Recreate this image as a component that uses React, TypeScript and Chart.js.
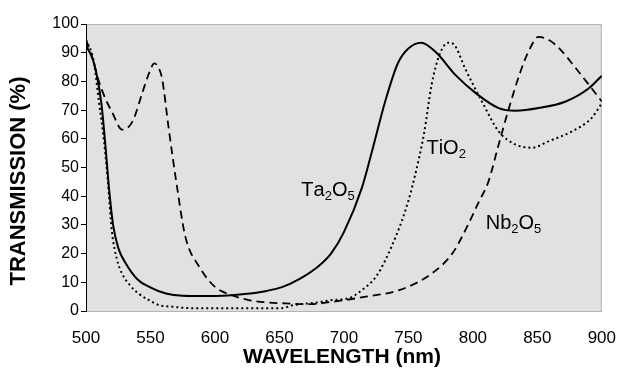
import React, { useEffect, useRef } from "react";
import { Chart, registerables } from "chart.js";

Chart.register(...registerables);

// ---------- data ----------
const taWavelength = [500, 505, 508, 512, 515, 518, 521, 525, 531, 540, 549, 562, 575, 590, 610, 625, 640, 652, 665, 680, 690, 700, 714, 722, 732, 742, 750, 760, 771, 787, 802, 820, 833, 851, 872, 890, 900];
const taTransmission = [92.5, 88, 83, 72, 58, 42, 30, 22, 16.5, 11, 8.4, 6.1, 5.3, 5.2, 5.4, 6, 7, 8.3, 11, 15.5, 20, 27.5, 43, 56, 73, 86.5, 91.5, 93.5, 90.3, 82, 76, 70.7, 69.8, 70.7, 73, 77.6, 82];

const tiWavelength = [500, 506, 510, 514, 517, 520, 524, 528, 534, 541, 548, 557, 567, 580, 620, 652, 660, 678, 691, 704, 714, 725, 732, 740, 745, 750, 755, 762, 768, 774, 781, 786, 794, 807, 820, 833, 846, 859, 877, 892, 900];
const tiTransmission = [94.6, 87, 73, 59, 45, 28, 18, 13, 9, 6, 4, 2, 1.5, 1, 1, 1, 2, 2.9, 3.8, 4.5, 7.3, 12, 17.6, 25.7, 31.5, 38.4, 47, 61.5, 78.8, 89.2, 93.5, 92.5, 84.5, 73, 62.6, 58, 56.9, 59.2, 62.6, 67.2, 72.4];

const nbWavelength = [500, 505, 510, 515, 520, 528, 536, 544, 549, 553, 556, 559, 564, 570, 577, 588, 600, 613, 626, 640, 652, 673, 691, 717, 743, 768, 784, 794, 805, 812, 820, 828, 836, 843, 851, 859, 867, 880, 890, 900];
const nbTransmission = [94.5, 88, 80, 74, 69.5, 63.2, 66, 76.5, 83, 86.3, 85, 81, 64, 45, 26, 15.3, 8.4, 5.5, 3.8, 3, 2.7, 2.4, 3.2, 5, 7.3, 13, 20, 28, 38.4, 45, 58, 70.7, 82.2, 90.3, 95.5, 94.4, 91.5, 84.5, 78.8, 73];

const xTickValues = [500, 550, 600, 650, 700, 750, 800, 850, 900];
const yTickValues = [0, 10, 20, 30, 40, 50, 60, 70, 80, 90, 100];

const xTitle = "WAVELENGTH (nm)";
const yTitle = "TRANSMISSION (%)";

// in-plot labels ("_" marks the next character as subscript), anchored in data units
const labelNames = ["Ta_2O_5", "TiO_2", "Nb_2O_5"];
const labelWavelength = [667, 764, 810];
const labelTransmission = [40, 54.7, 28.7];

const FONT = '"Liberation Sans", Arial, Helvetica, sans-serif';

const toPoints = (xs: number[], ys: number[]) => xs.map((x, i) => ({ x, y: ys[i] }));

const plotBackground = {
  id: "plotBackground",
  beforeDraw(chart: any) {
    const { ctx, chartArea: a } = chart;
    ctx.save();
    ctx.fillStyle = "#e1e1e1";
    ctx.fillRect(a.left, a.top, a.right - a.left, a.bottom - a.top);
    ctx.strokeStyle = "#b4b4b4";
    ctx.lineWidth = 1;
    ctx.strokeRect(a.left + 0.5, a.top + 0.5, a.right - a.left - 1, a.bottom - a.top);
    ctx.restore();
  },
};

const drawRich = (ctx: CanvasRenderingContext2D, text: string, x: number, y: number) => {
  let cx = x;
  for (let i = 0; i < text.length; i++) {
    const ch = text[i];
    if (ch === "_" && i + 1 < text.length) {
      const s = text[i + 1];
      ctx.font = `13px ${FONT}`;
      ctx.fillText(s, cx, y + 4);
      cx += ctx.measureText(s).width;
      i++;
    } else {
      ctx.font = `20px ${FONT}`;
      ctx.fillText(ch, cx, y);
      cx += ctx.measureText(ch).width;
    }
  }
};

const annotations = {
  id: "annotations",
  afterDatasetsDraw(chart: any) {
    const { ctx, scales, chartArea: a } = chart;
    ctx.save();
    ctx.fillStyle = "#000";
    ctx.textBaseline = "alphabetic";
    ctx.textAlign = "left";
    labelNames.forEach((name, i) => {
      const px = scales.x.getPixelForValue(labelWavelength[i]);
      const py = scales.y.getPixelForValue(labelTransmission[i]);
      drawRich(ctx, name, px, py);
    });
    // axis titles
    ctx.textAlign = "center";
    ctx.textBaseline = "middle";
    ctx.font = `bold 21px ${FONT}`;
    ctx.fillText(xTitle, (a.left + a.right) / 2 - 2, a.bottom + 46);
    ctx.font = `bold 22px ${FONT}`;
    ctx.translate(19, a.bottom - 130);
    ctx.rotate(-Math.PI / 2);
    ctx.fillText(yTitle, 0, 0);
    ctx.restore();
  },
};

export default function App() {
  const ref = useRef<HTMLCanvasElement>(null);

  useEffect(() => {
    document.body.style.margin = "0";
    if (!ref.current) return;
    const chart = new Chart(ref.current, {
      type: "line",
      data: {
        datasets: [
          {
            label: "Ta2O5",
            data: toPoints(taWavelength, taTransmission),
            borderColor: "#000",
            borderWidth: 2,
            pointRadius: 0,
            cubicInterpolationMode: "monotone",
          },
          {
            label: "TiO2",
            data: toPoints(tiWavelength, tiTransmission),
            borderColor: "#000",
            borderWidth: 2,
            borderDash: [2, 3],
            pointRadius: 0,
            cubicInterpolationMode: "monotone",
          },
          {
            label: "Nb2O5",
            data: toPoints(nbWavelength, nbTransmission),
            borderColor: "#000",
            borderWidth: 1.8,
            borderDash: [8, 5],
            pointRadius: 0,
            cubicInterpolationMode: "monotone",
          },
        ],
      },
      options: {
        responsive: false,
        animation: false,
        devicePixelRatio: 1,
        layout: { padding: { top: 24, right: 0, left: 0, bottom: 0 } },
        plugins: { legend: { display: false }, tooltip: { enabled: false } },
        scales: {
          x: {
            type: "linear",
            min: 500,
            max: 900,
            afterBuildTicks: (s: any) => {
              s.ticks = xTickValues.map((v) => ({ value: v }));
            },
            afterFit: (s: any) => {
              s.height = 62;
            },
            grid: { display: true, drawOnChartArea: false, drawTicks: true, tickLength: 15, color: "rgba(0,0,0,0)" },
            border: { display: true, color: "#b4b4b4" },
            ticks: { color: "#000", padding: 2, font: { family: FONT, size: 17 }, maxRotation: 0 },
          },
          y: {
            type: "linear",
            min: 0,
            max: 100,
            afterBuildTicks: (s: any) => {
              s.ticks = yTickValues.map((v) => ({ value: v }));
            },
            afterFit: (s: any) => {
              s.width = 86;
            },
            grid: { drawOnChartArea: false, drawTicks: true, tickLength: 5, color: "#000" },
            border: { display: true, color: "#000" },
            ticks: { color: "#000", padding: 2, font: { family: FONT, size: 16 } },
          },
        },
      },
      plugins: [plotBackground, annotations],
    } as any);
    return () => chart.destroy();
  }, []);

  return (
    <div style={{ width: 618, height: 373, background: "#fff" }}>
      <canvas ref={ref} width={618} height={373} />
    </div>
  );
}
